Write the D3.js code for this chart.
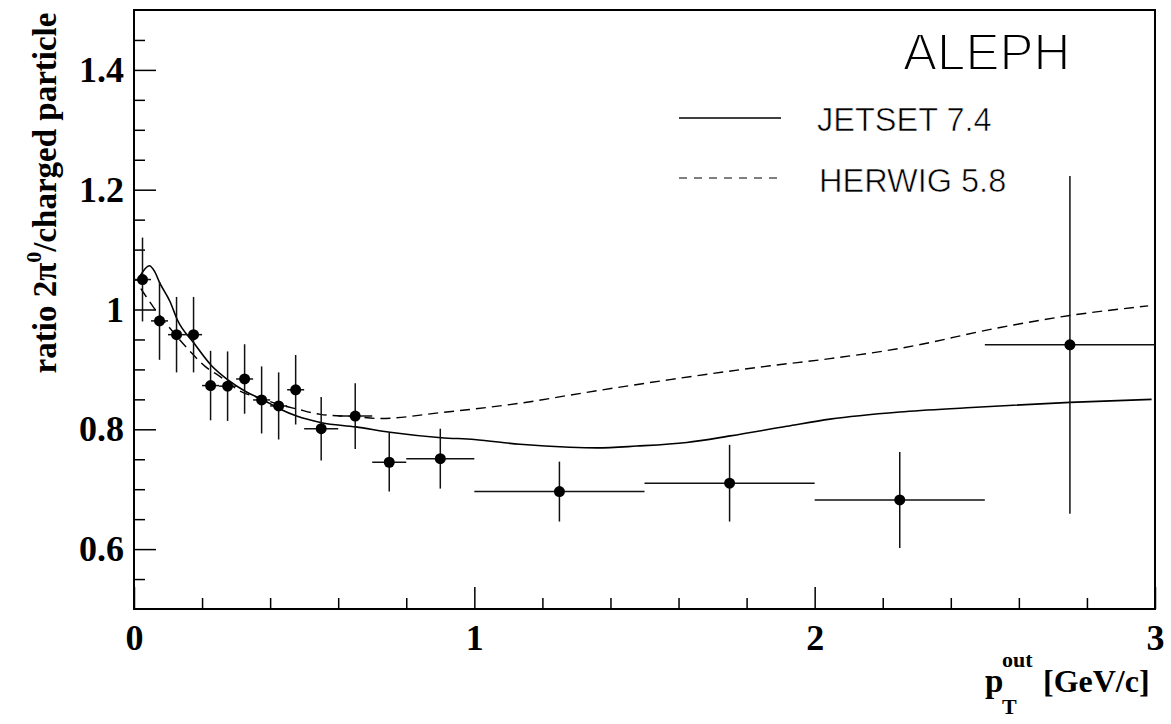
<!DOCTYPE html>
<html>
<head>
<meta charset="utf-8">
<script src="https://cdn.jsdelivr.net/npm/d3@7"></script>
<style>
  html, body { margin: 0; padding: 0; background: #fff; }
  svg { display: block; }
</style>
</head>
<body>
<svg id="chart" width="1171" height="724"></svg>
<script>
// ---- data ----
const pointX   = [0.025,0.075,0.125,0.175,0.225,0.275,0.325,0.375,0.425,0.475,0.55,0.65,0.75,0.9,1.25,1.75,2.25,2.75];
const binLow   = [0,0.05,0.1,0.15,0.2,0.25,0.3,0.35,0.4,0.45,0.5,0.6,0.7,0.8,1.0,1.5,2.0,2.5];
const binHigh  = [0.05,0.1,0.15,0.2,0.25,0.3,0.35,0.4,0.45,0.5,0.6,0.7,0.8,1.0,1.5,2.0,2.5,3.0];
const ratio    = [1.050,0.981,0.958,0.958,0.873,0.872,0.884,0.849,0.839,0.866,0.801,0.822,0.745,0.751,0.696,0.710,0.682,0.941];
const ratioErr = [0.070,0.065,0.063,0.063,0.058,0.058,0.058,0.056,0.056,0.058,0.053,0.055,0.049,0.050,0.050,0.064,0.080,0.282];

const jetsetX = [0.016,0.045,0.060,0.076,0.106,0.128,0.176,0.228,0.277,0.328,0.38,0.429,0.478,0.551,0.652,0.752,0.903,1.0,1.134,1.28,1.36,1.477,1.624,1.752,1.918,2.045,2.25,2.447,2.75,2.99];
const jetsetY = [1.054,1.073,1.064,1.044,1.013,0.982,0.944,0.906,0.882,0.863,0.849,0.834,0.822,0.811,0.804,0.795,0.786,0.783,0.775,0.770,0.769,0.772,0.778,0.789,0.805,0.817,0.829,0.836,0.845,0.850];

const herwigX = [0.02,0.057,0.101,0.165,0.209,0.253,0.311,0.37,0.429,0.478,0.547,0.652,0.723,0.903,1.0,1.164,1.28,1.575,1.869,2.045,2.25,2.545,2.75,2.98];
const herwigY = [1.035,1.004,0.972,0.930,0.905,0.888,0.864,0.852,0.841,0.834,0.825,0.821,0.818,0.828,0.834,0.846,0.857,0.883,0.906,0.918,0.935,0.970,0.990,1.006];

const xMajorTicks = [0,1,2,3];
const xMinorTicks = [0.2,0.4,0.6,0.8,1.2,1.4,1.6,1.8,2.2,2.4,2.6,2.8];
const yMajorTicks = [0.6,0.8,1.0,1.2,1.4];
const yMinorTicks = [0.55,0.65,0.7,0.75,0.85,0.9,0.95,1.05,1.1,1.15,1.25,1.3,1.35,1.45];
const xTickLabels = ["0","1","2","3"];
const yTickLabels = ["0.6","0.8","1","1.2","1.4"];

const legendLabels = ["JETSET 7.4","HERWIG 5.8"];
const experiment = "ALEPH";

// ---- layout ----
const svg = d3.select("#chart");
const L = 134, R = 1155, T = 10, B = 609;
const x = d3.scaleLinear().domain([0,3]).range([L,R]);
const y = d3.scaleLinear().domain([0.5,1.5]).range([B,T]);

const serif = "'Liberation Serif','Times New Roman',serif";
const sans = "'Liberation Sans',Arial,Helvetica,sans-serif";

// ---- axes ----
const xMajor = svg.append("g").attr("transform",`translate(0,${B})`)
  .call(d3.axisBottom(x).tickValues(xMajorTicks).tickSize(-22).tickPadding(15)
        .tickFormat((d,i)=>xTickLabels[i]));
const xMinor = svg.append("g").attr("transform",`translate(0,${B})`)
  .call(d3.axisBottom(x).tickValues(xMinorTicks).tickSize(-11).tickFormat(""));
const yMajor = svg.append("g").attr("transform",`translate(${L},0)`)
  .call(d3.axisLeft(y).tickValues(yMajorTicks).tickSize(-22).tickPadding(10)
        .tickFormat((d,i)=>yTickLabels[i]));
const yMinor = svg.append("g").attr("transform",`translate(${L},0)`)
  .call(d3.axisLeft(y).tickValues(yMinorTicks).tickSize(-11).tickFormat(""));

[xMajor,xMinor,yMajor,yMinor].forEach(g=>{
  g.select(".domain").remove();
  g.selectAll(".tick line").attr("stroke","#000").attr("stroke-width",1.5);
  g.selectAll(".tick text").attr("font-family",serif).attr("font-weight","bold")
    .attr("font-size",36).attr("fill","#000");
});

// frame
svg.append("rect").attr("x",L).attr("y",T).attr("width",R-L).attr("height",B-T)
  .attr("fill","none").attr("stroke","#000").attr("stroke-width",2);

// ---- curves ----
const line = d3.line().x(d=>x(d[0])).y(d=>y(d[1])).curve(d3.curveMonotoneX);
svg.append("path").datum(jetsetX.map((v,i)=>[v,jetsetY[i]]))
  .attr("d",line).attr("fill","none").attr("stroke","#000").attr("stroke-width",1.6);
svg.append("path").datum(herwigX.map((v,i)=>[v,herwigY[i]]))
  .attr("d",line).attr("fill","none").attr("stroke","#000").attr("stroke-width",1.4)
  .attr("stroke-dasharray","10,6");

// ---- data points ----
const pts = pointX.map((v,i)=>({x:v, lo:binLow[i], hi:binHigh[i], y:ratio[i], e:ratioErr[i]}));
const pg = svg.append("g");
pg.selectAll("line.v").data(pts).join("line").attr("class","v")
  .attr("x1",d=>x(d.x)).attr("x2",d=>x(d.x))
  .attr("y1",d=>y(d.y-d.e)).attr("y2",d=>y(d.y+d.e))
  .attr("stroke","#111").attr("stroke-width",1.5);
pg.selectAll("line.h").data(pts).join("line").attr("class","h")
  .attr("x1",d=>x(d.lo)).attr("x2",d=>x(d.hi))
  .attr("y1",d=>y(d.y)).attr("y2",d=>y(d.y))
  .attr("stroke","#111").attr("stroke-width",1.5);
pg.selectAll("circle").data(pts).join("circle")
  .attr("cx",d=>x(d.x)).attr("cy",d=>y(d.y)).attr("r",5.5).attr("fill","#000");

// ---- legend (thin glyphs: white outline drawn over fill) ----
svg.append("text").attr("x",903).attr("y",70).attr("font-family",sans)
  .attr("font-size",51).attr("fill","#000")
  .attr("stroke","#fff").attr("stroke-width",1.8).text(experiment);
svg.append("line").attr("x1",679).attr("x2",781).attr("y1",118).attr("y2",118)
  .attr("stroke","#000").attr("stroke-width",1.4);
svg.append("line").attr("x1",679).attr("x2",781).attr("y1",178).attr("y2",178)
  .attr("stroke","#000").attr("stroke-width",1.2).attr("stroke-dasharray","8,7");
svg.append("text").attr("x",817).attr("y",131).attr("font-family",sans)
  .attr("font-size",32.5).attr("fill","#000")
  .attr("stroke","#fff").attr("stroke-width",0.6).text(legendLabels[0]);
svg.append("text").attr("x",819).attr("y",192).attr("font-family",sans)
  .attr("font-size",32.5).attr("fill","#000")
  .attr("stroke","#fff").attr("stroke-width",0.6).text(legendLabels[1]);

// ---- axis titles ----
const yt = svg.append("text").attr("transform","translate(56,193) rotate(-90)")
  .attr("text-anchor","middle").attr("font-family",serif).attr("font-weight","bold")
  .attr("font-size",33).attr("fill","#000");
yt.append("tspan").text("ratio 2\u03C0");
yt.append("tspan").attr("dy",-15).attr("font-size",22).text("0");
yt.append("tspan").attr("dy",15).text("/charged particle");

const xt = svg.append("g").attr("font-family",serif).attr("font-weight","bold").attr("fill","#000");
xt.append("text").attr("x",985).attr("y",692).attr("font-size",33).text("p");
xt.append("text").attr("x",1002).attr("y",667).attr("font-size",22).text("out");
xt.append("text").attr("x",1002).attr("y",714).attr("font-size",22).text("T");
xt.append("text").attr("x",1043).attr("y",692).attr("font-size",32).text("[GeV/c]");
</script>
</body>
</html>
